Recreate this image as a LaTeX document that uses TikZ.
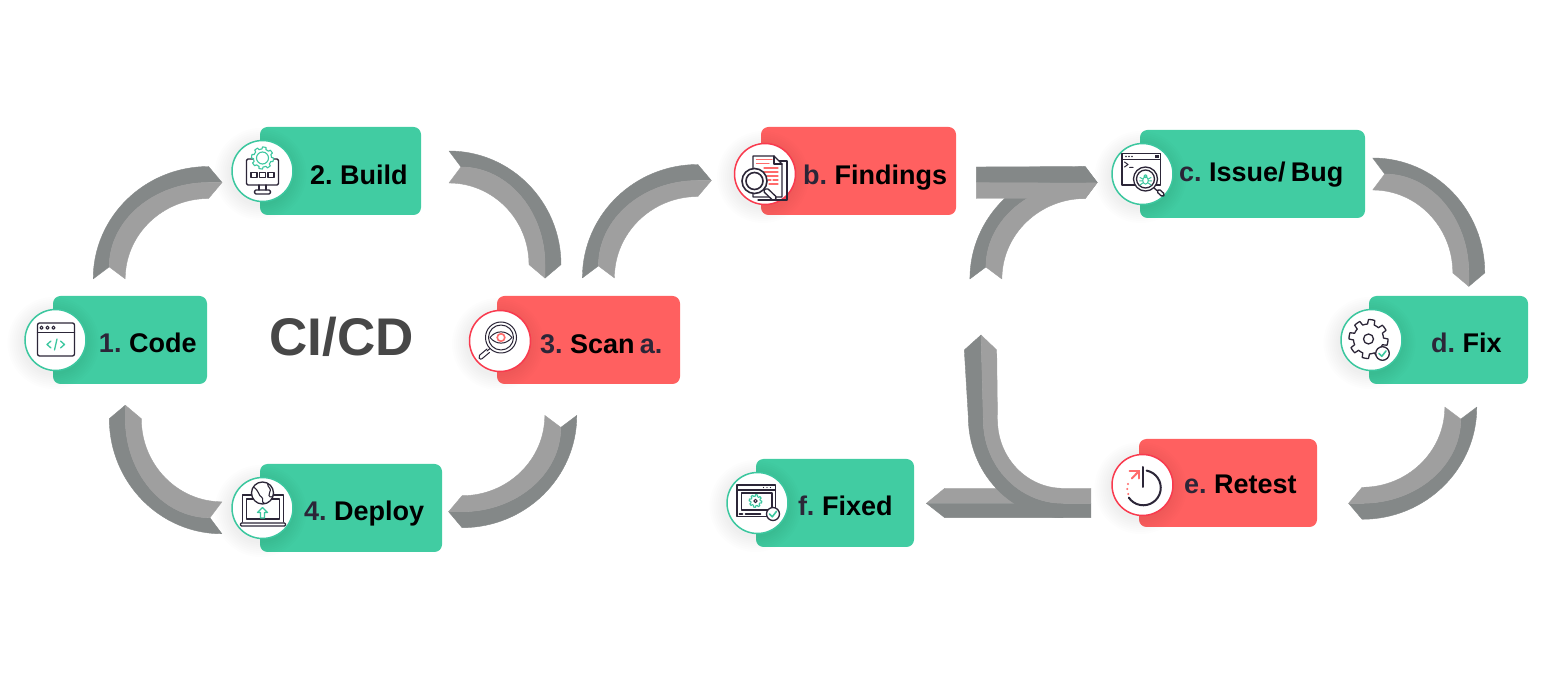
\documentclass[tikz,border=0pt]{standalone}
\usepackage{fontspec}
\setmainfont{Liberation Sans}
\usetikzlibrary{calc,shapes.geometric}

% one drawing unit is one pixel of a 1560 x 678 canvas, y running downwards
\newdimen\pxu \pxu=.5pt

\definecolor{cardgreen}{HTML}{41CCA2}
\definecolor{cardred}{HTML}{FF6060}
\definecolor{ringgreen}{HTML}{3CC79F}
\definecolor{ringred}{HTML}{F93A4E}
\definecolor{ribbondark}{HTML}{848888}
\definecolor{ribbonlight}{HTML}{9F9F9F}
\definecolor{ink}{HTML}{2C2638}
\definecolor{iconred}{HTML}{FF6B6B}
\definecolor{titlegrey}{HTML}{474747}

\tikzset{
  x=.5pt, y=-.5pt,
  card/.style={rectangle, rounded corners=3.75pt, inner sep=0pt, fill=#1,
    minimum height=44pt, font=\fontsize{13.5}{16}\bfseries, text=black},
  iconring/.style={circle, inner sep=0pt, minimum size=30.5pt, fill=white, draw=#1, line width=.75pt},
  ico/.style={draw=ink, line width=.65pt, line join=round, line cap=round},
  icog/.style={draw=ringgreen, line width=.65pt, line join=round, line cap=round},
  icor/.style={draw=iconred, line width=.65pt, line cap=round},
  darkpart/.style={fill=ribbondark, draw=ribbondark, line width=.2pt, line join=round},
  lightpart/.style={fill=ribbonlight, draw=ribbonlight, line width=.2pt, line join=round},
}

% Text of a card: width of the card, indent, drop of the baseline below the middle, text
\newcommand{\cardtext}[4]{\makebox[#1\pxu][l]{\hspace*{#2\pxu}\raisebox{-#3\pxu}[0pt][0pt]{\spaceskip=.19em\relax #4}}}
\newcommand{\pre}[1]{\textcolor{ink}{#1}}

% A quarter-ellipse from one point to another about the given corner
\newcommand{\qarc}[3]{.. controls ($(#1)!.5523!(#3)$) and ($(#2)!.5523!(#3)$) .. (#2)}

% Two-tone curved ribbon arrow: tail, head, outward normal at tail, at head, corner operator
\def\tiplen{13.5}
\newcommand{\ribbon}[5]{%
  \coordinate (to) at ($(#1)+16*(#3)$);
  \coordinate (ti) at ($(#1)-16*(#3)$);
  \coordinate (tn) at ($(#1)+12*(#4)$);
  \coordinate (ho) at ($(#2)+16*(#4)$);
  \coordinate (hi) at ($(#2)-16*(#4)$);
  \coordinate (tp) at ($(#2)-\tiplen*(#3)$);
  \fill[darkpart] (to) \qarc{to}{ho}{to #5 ho} -- (tp) -- (#2) \qarc{#2}{tn}{tn #5 #2} -- cycle;
  \fill[lightpart] (ti) \qarc{ti}{hi}{ti #5 hi} -- (tp) -- (#2) \qarc{#2}{tn}{tn #5 #2} -- cycle;
}

% Closed toothed wheel outline: x, y, root radius, tooth height, number of teeth
\newcommand{\gearline}[5]{plot[samples=97, domain=0:360, variable=\t]
  ({#1+(#3+(#4)*(sin(#5*\t+15)>0))*cos(\t)},{#2+(#3+(#4)*(sin(#5*\t+15)>0))*sin(\t)}) -- cycle}

% Soft shade under an icon disc
\newcommand{\discshade}[2]{\foreach \r in {32,34,...,46}{\fill[black,opacity=.008] ($(#1,#2)+(-2,3)$) circle (\r);}}

\begin{document}
\begin{tikzpicture}
\useasboundingbox (0,0) rectangle (1560,678);

% ---- cards ----
\node[card=cardgreen, minimum width=77pt] (code) at (130,340) {\cardtext{154}{46}{13}{\pre{1.} Code}};
\node[card=cardgreen, minimum width=80.5pt] (build) at (340.5,171) {\cardtext{161}{50}{14}{2. Build}};
\node[card=cardred, minimum width=91.5pt] (scan) at (588.5,340) {\cardtext{183}{43}{14}{\pre{3.} Scan \pre{a.}}};
\node[card=cardgreen, minimum width=91pt] (deploy) at (351,508) {\cardtext{182}{44}{13}{\pre{4.} Deploy}};
\node[card=cardred, minimum width=97.5pt] (findings) at (858.5,171) {\cardtext{195}{42}{14}{\pre{b.} Findings}};
\node[card=cardgreen, minimum width=112.5pt] (issue) at (1252.5,174) {\cardtext{225}{39}{8}{\pre{c.} Issue/ Bug}};
\node[card=cardgreen, minimum width=79.5pt] (fix) at (1448.5,340) {\cardtext{159}{62}{13}{\pre{d.} Fix}};
\node[card=cardred, minimum width=89pt] (retest) at (1228,483) {\cardtext{178}{45}{11}{\pre{e.} Retest}};
\node[card=cardgreen, minimum width=79pt] (fixed) at (835,503) {\cardtext{158}{42}{13}{\pre{f.} Fixed}};

\node[font=\fontsize{26.5}{30}\bfseries, text=titlegrey, inner sep=0pt] (title) at (341.5,337) {CI/CD};

% ---- icon discs ----
\discshade{55.5}{340}\discshade{262.5}{171}\discshade{500}{341}\discshade{262.5}{508}
\discshade{765}{174}\discshade{1142.5}{174}\discshade{1371.5}{340}\discshade{1142.5}{485}\discshade{757.5}{503}
\node[iconring=ringgreen] (code-icon) at (55.5,340) {};
\node[iconring=ringgreen] (build-icon) at (262.5,171) {};
\node[iconring=ringred] (scan-icon) at (500,341) {};
\node[iconring=ringgreen] (deploy-icon) at (262.5,508) {};
\node[iconring=ringred] (findings-icon) at (765,174) {};
\node[iconring=ringgreen] (issue-icon) at (1142.5,174) {};
\node[iconring=ringgreen] (fix-icon) at (1371.5,340) {};
\node[iconring=ringred] (retest-icon) at (1142.5,485) {};
\node[iconring=ringgreen] (fixed-icon) at (757.5,503) {};

% ---- ribbon arrows of the CI/CD loop ----
\coordinate (t1) at ([shift={(-20.8,-16.7)}]code.north);
\coordinate (h1) at ([shift={(-22.7,11.5)}]build-icon.west);
\ribbon{t1}{h1}{-1,0}{0,-1}{|-}
\coordinate (t2) at ([shift={(27.6,-4)}]build.east);
\coordinate (h2) at ([shift={(-43.5,-31)}]scan.north);
\ribbon{t2}{h2}{0,-1}{1,0}{-|}
\coordinate (t3) at ([shift={(-27.7,31)}]scan.south);
\coordinate (h3) at ([shift={(19.7,3.7)}]deploy.east);
\ribbon{t3}{h3}{1,0}{0,1}{|-}
\coordinate (t4) at ([shift={(-9.3,9.8)}]deploy-icon.west);
\coordinate (h4) at ([shift={(-4.7,34.3)}]code.south);
\ribbon{t4}{h4}{0,1}{-1,0}{-|}

% ---- ribbon arrows of the remediation loop ----
\coordinate (t5) at ([shift={(9.9,-17.7)}]scan.north);
\coordinate (h5) at ([shift={(-35.9,6.5)}]findings-icon.west);
\ribbon{t5}{h5}{-1,0}{0,-1}{|-}

\def\tiplen{12}
\coordinate (t6) at ([shift={(29.5,108)}]findings.east);
\coordinate (h6) at ([shift={(-26,8.5)}]issue-icon.west);
\ribbon{t6}{h6}{-1,0}{0,-1}{|-}
\def\tiplen{13.5}
% straight bar laid over the head of that ribbon
\coordinate (b6) at ([shift={(20,11)}]findings.east);
\fill[lightpart] (b6) -- (h6 -| tp) -- ($(h6)+(0,16)$) -- ($(b6)+(0,16.5)$) -- cycle;
\fill[darkpart] (b6) -- (h6 -| tp) -- ($(h6)+(-1,-16)$) -- ($(b6)+(0,-15)$) -- cycle;

\coordinate (t7) at ([shift={(7.3,0)}]issue.east);
\coordinate (h7) at ([shift={(20.3,-22.7)}]fix.north);
\ribbon{t7}{h7}{0,-1}{1,0}{-|}
\coordinate (t8) at ([shift={(12.3,22.7)}]fix.south);
\coordinate (h8) at ([shift={(44.7,20.3)}]retest.east);
\ribbon{t8}{h8}{1,0}{0,1}{|-}

% two-headed branching ribbon between the retest and fixed cards
\coordinate (e0) at ([shift={(-20.3,18.3)}]retest-icon.west);
\coordinate (e1) at ([shift={(12,.3)}]fixed.east);
\coordinate (u0) at (981,335);
\coordinate (c0) at (1063,503.3);
\coordinate (c1) at (1063,517.7);
\coordinate (c2) at (1063,488.3);
\fill[lightpart] (e1) -- ($(e1)+(18.3,-15)$) -- (998.3,488.3) -- (1020,503.3) -- cycle;
\fill[darkpart] (e1) -- ($(e1)+(18.3,14.4)$) -- ($(e0)+(0,14.4)$) -- (e0) -- cycle;
\coordinate (m1) at (968.3,416.7);
\coordinate (m2) at (983.3,420);
\coordinate (m3) at (997.5,420);
\fill[darkpart] (u0) -- (964.3,350) -- (m1) \qarc{m1}{c1}{m1 |- c1} -- (c0) \qarc{c0}{m2}{m2 |- c0} -- cycle;
\fill[lightpart] (u0) -- (996.7,350) -- (m3) \qarc{m3}{c2}{m3 |- c2} -- ($(e0)+(0,-15)$) -- (e0) -- (c0) \qarc{c0}{m2}{m2 |- c0} -- cycle;

% ---- icons ----
\begin{scope}[shift={(code-icon.center)}]
  \draw[ico, rounded corners=1pt] (-18,-17) rectangle (19,16);
  \draw[ico] (-18,-7.5) -- (19,-7.5);
  \foreach \px in {-14,-8,-2} \draw[ico, line width=.5pt] (\px,-12.3) circle (1.6);
  \draw[icog] (-4.5,1) -- (-8.5,4.5) -- (-4.5,8);
  \draw[icog] (5,1) -- (9,4.5) -- (5,8);
  \draw[icog] (1.5,-1) -- (-1,10);
\end{scope}

\begin{scope}[shift={(build-icon.center)}]
  \draw[ico, rounded corners=.7pt] (-16,-12) rectangle (16,14);
  \draw[ico] (-3.5,14) -- (-3.5,19) (3.5,14) -- (3.5,19);
  \draw[ico, rounded corners=.7pt] (-8,19) rectangle (8,23);
  \foreach \px in {-11.5,-3,5.5} \draw[ico, line width=.55pt] (\px,1.7) rectangle ++(6,5);
  \filldraw[icog, fill=white, line width=.55pt] \gearline{0}{-13}{9}{2}{8};
  \draw[icog, line width=.55pt] (0,-13) circle (6);
\end{scope}

\begin{scope}[shift={(scan-icon.center)}]
  \draw[ico, line width=.5pt] (1,-3.5) circle (15.5);
  \draw[ico, line width=.5pt] (1,-3.5) circle (12.5);
  \draw[ico, line width=.5pt] (-10,-3.5) .. controls (-4,-11) and (6,-11) .. (12,-3.5) .. controls (6,4) and (-4,4) .. cycle;
  \draw[icor, line width=.8pt] (1,-3.5) circle (3.8);
  \draw[ico, line width=.5pt] (-10,7.5) -- (-13,10);
  \draw[ico, line width=.5pt, rounded corners=1pt] (-13,8) -- (-22,15.5) -- (-19.5,19) -- (-10.5,11.5);
\end{scope}

\begin{scope}[shift={(deploy-icon.center)}]
  \draw[ico] (-20,14) -- (-20,-13) -- (21,-13) -- (21,14);
  \draw[ico] (-16,11) -- (-16,-9) -- (17,-9) -- (17,11) -- cycle;
  \draw[ico, rounded corners=.5pt] (-22,15) rectangle (23,18);
  \filldraw[ico, fill=white] (0,-15) circle (11);
  \draw[ico, line width=.55pt] (-9,-21) .. controls (-3,-17) and (-4,-12) .. (-1,-11) .. controls (2,-9) and (-2,-6) .. (2,-4.5);
  \draw[ico, line width=.55pt] (5,-24.5) .. controls (5,-20) and (10,-20) .. (7,-15) .. controls (5,-11) and (9,-10) .. (10.5,-12);
  \draw[icog] (0,-.5) -- (-5,4.5) -- (-2,4.5) -- (-2,10) -- (2,10) -- (2,4.5) -- (5,4.5) -- cycle;
\end{scope}

\begin{scope}[shift={(findings-icon.center)}]
  \draw[ico] (9,-13) -- (22,-13) -- (22,26) -- (-7,26);
  \filldraw[ico, fill=white] (-12,-18) -- (9,-18) -- (17,-10) -- (17,23) -- (-12,23) -- cycle;
  \draw[ico] (9,-18) -- (9,-10) -- (17,-10);
  \draw[icor] (-8.5,-14.5) -- (7,-14.5) (-8.5,-10.5) -- (4,-10.5);
  \draw[icor] (-1,-6) -- (13,-6) (-1,-2) -- (13,-2) (2,2) -- (13,2) (3,6) -- (6,6) (8,6) -- (13,6) (4,10) -- (13,10);
  \filldraw[ico, fill=white, line width=.8pt] (-10.5,7) circle (12.5);
  \draw[ico, line width=.8pt] (-10.5,7) circle (8.5);
  \filldraw[ico, fill=white, rounded corners=.8pt] (-2,17) -- (2,14) -- (12,23.5) -- (8.5,27) -- cycle;
\end{scope}

\begin{scope}[shift={(issue-icon.center)}]
  \draw[ico] (-20.5,-20.5) rectangle (18,11);
  \draw[ico] (-20.5,-14.5) -- (18,-14.5);
  \foreach \px in {-16.5,-13.5,-10.5} \fill[ink] (\px,-17.5) circle (.9);
  \fill[ink] (12.5,-19) rectangle (16.5,-16);
  \draw[ico, line width=.5pt] (-18,-12) -- (-14.5,-9.5) -- (-18,-7) (-13,-6.5) -- (-9.5,-6.5);
  \filldraw[ico, fill=white] (3,5) circle (12);
  \draw[ico] (3,5) circle (9);
  \draw[icog, line width=.5pt] (3,6.5) ellipse (2.8 and 3.6);
  \draw[icog, line width=.5pt] (3,2.3) circle (1.6) (.2,5) -- (-2.5,3.5) (5.8,5) -- (8.5,3.5) (.2,7) -- (-3,7) (5.8,7) -- (9,7) (.2,9) -- (-2.5,11) (5.8,9) -- (8.5,11);
  \draw[ico] (11.5,14) -- (15,17);
  \filldraw[ico, fill=white, rounded corners=.8pt] (14,17.5) -- (16.5,15) -- (22.5,20.5) -- (20,23) -- cycle;
\end{scope}

\begin{scope}[shift={(fix-icon.center)}]
  \filldraw[ico, fill=white] \gearline{-3}{-1}{15}{4.5}{8};
  \draw[ico] (-3,-1) circle (5);
  \filldraw[ico, fill=white] (11,13.5) circle (6.8);
  \draw[icog, line width=.8pt] (7.5,13.5) -- (10.3,16.3) -- (14.5,11);
\end{scope}

\begin{scope}[shift={(retest-icon.center)}]
  \draw[ico, line width=1pt] (4.1,-14.4) arc[start angle=-79, end angle=146, radius=17.5];
  \draw[ico, line width=1pt] (.5,-18) -- (.5,2);
  \draw[icor, line width=1pt] (-10.7,-6.5) -- (-3.5,-14);
  \draw[icor, line width=1pt] (-13,-14) -- (-3.5,-14) -- (-3.5,-6.5);
  \foreach \a/\b in {-14.5/-1,-15.3/4,-14.3/9} \fill[iconred] (\a,\b) circle (1.2);
\end{scope}

\begin{scope}[shift={(fixed-icon.center)}]
  \draw[ico] (-20.5,-18) rectangle (18,13.5);
  \draw[ico] (-20.5,-13) -- (18,-13);
  \draw[ico] (-16,-10) rectangle (14.5,7);
  \foreach \px in {6,9.5,13} \fill[ink] (\px,-15.5) circle (.7);
  \filldraw[icog, fill=white, line width=.55pt] \gearline{-2}{-2}{4.8}{1.5}{8};
  \draw[ico, line width=.5pt] (-2,-2) circle (1.7);
  \draw[ico, line width=.9pt] (-18,11) -- (-15,11) (-12,11) -- (3,11);
  \filldraw[ico, fill=white] (15.5,11) circle (6.5);
  \draw[icog, line width=.8pt] (12,11) -- (14.8,13.8) -- (19,8.3);
\end{scope}
\end{tikzpicture}
\end{document}
